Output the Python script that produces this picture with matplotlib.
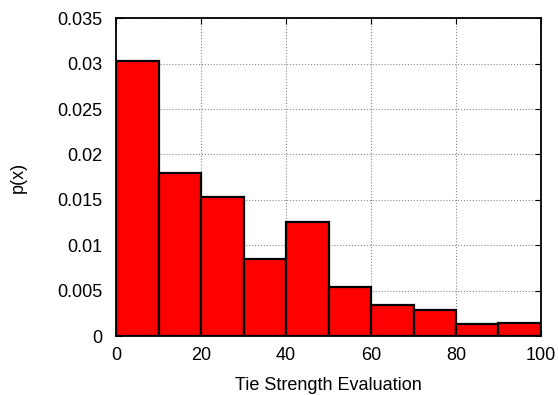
import numpy as np
import matplotlib.pyplot as plt

# histogram bins (lower edges) and probability values
bin_edges = [0, 10, 20, 30, 40, 50, 60, 70, 80, 90]
p_values = [0.0303, 0.0180, 0.0153, 0.0085, 0.0126, 0.0054, 0.0034, 0.0029, 0.00136, 0.00147]
x_ticks = [0, 20, 40, 60, 80, 100]
y_ticks = [0, 0.005, 0.01, 0.015, 0.02, 0.025, 0.03, 0.035]
y_tick_labels = ['0', '0.005', '0.01', '0.015', '0.02', '0.025', '0.03', '0.035']

plt.rcParams['font.family'] = ['Liberation Sans', 'DejaVu Sans']

fig = plt.figure(figsize=(5.58, 3.95), dpi=100)
ax = fig.add_axes([0.208, 0.149, 0.7615, 0.805])

ax.bar(bin_edges, p_values, width=10, align='edge', color='red',
       edgecolor='black', linewidth=1.6, zorder=3)

ax.set_xlim(0, 100)
ax.set_ylim(0, 0.035)
ax.set_xticks(x_ticks)
ax.set_yticks(y_ticks)
ax.set_yticklabels(y_tick_labels)
ax.tick_params(direction='in', top=True, right=True, labelsize=13, length=4)
ax.tick_params(axis='y', pad=10)
ax.tick_params(axis='x', pad=8)
ax.grid(True, linestyle=':', color='#888888', linewidth=0.8, zorder=0)
for s in ax.spines.values():
    s.set_linewidth(1.3)

ax.set_xlabel('Tie Strength Evaluation', fontsize=13, labelpad=9)
ax.set_ylabel('p(x)', fontsize=13, labelpad=22)

fig.savefig('out.png', dpi=100)
